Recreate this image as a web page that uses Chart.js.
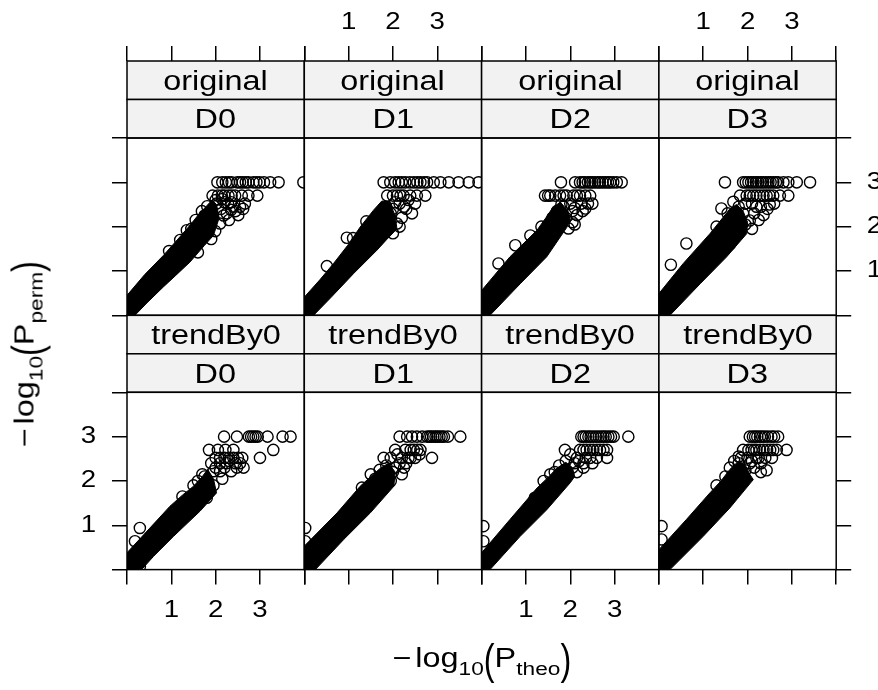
<!DOCTYPE html>
<html>
<head>
<meta charset="utf-8">
<title>-log10(P_perm) vs -log10(P_theo)</title>
<script src="https://cdn.jsdelivr.net/npm/chart.js@4/dist/chart.umd.min.js"></script>
<style>
  html, body { margin:0; padding:0; background:#fff; overflow:hidden; }
  #wrap { position:relative; width:878px; height:690px; }
  #c { position:absolute; left:0; top:0; }
  .lbl { position:absolute; font-family:"Liberation Sans", Arial, sans-serif; color:#000; white-space:nowrap; line-height:1; }
  .strip { display:flex; align-items:center; justify-content:center; font-size:27px; }
  .strip span { display:inline-block; transform:translateY(1.4px) scaleX(1.2); }
  .axt { font-size:27px; }
  .axt sub { font-size:70%; vertical-align:-0.45em; line-height:0; }
  .axt .mn { margin-right:3px; }
  .axt .par { display:inline-block; transform:translateY(3px) scaleY(1.55); }
</style>
</head>
<body>
<div id="wrap"><canvas id="c" width="878" height="690"></canvas></div>
<script>
// ---------------- data ----------------
const rowLabels = ['original', 'trendBy0'];
const colLabels = ['D0', 'D1', 'D2', 'D3'];
const tickValues = [0, 1, 2, 3, 4];
const tickLabels = [1, 2, 3];
const axisMin = 0, axisMax = 4;

// original / D0 : individual circles (x = -log10 P_theo, y = -log10 P_perm)
const o0_x = [2.04,2.15,2.23,2.30,2.36,2.49,2.55,2.61,2.68,2.74,2.85,2.92,2.99,3.09,3.23,3.42,3.98,
              1.93,2.05,2.14,2.20,2.29,2.36,2.44,2.59,2.74,2.94,
              1.69,1.81,2.02,2.12,2.25,2.40,2.51,2.66,2.10,1.99,2.30,1.55,1.35,2.20,2.35,
              2.00,2.15,2.28,2.45,2.55,2.18,1.88,1.75,2.35,2.62,1.45,1.20,0.95,1.90,1.60];
const o0_y = [3,3,3,3,3,3,3,3,3,3,3,3,3,3,3,3,3,
              2.7,2.7,2.7,2.7,2.7,2.7,2.7,2.7,2.7,2.7,
              2.35,2.46,2.52,2.40,2.30,2.45,2.26,2.52,2.07,1.90,2.15,2.15,1.92,2.55,2.55,
              2.60,2.62,2.52,2.35,2.45,2.25,2.30,2.25,2.38,2.40,1.95,1.70,1.45,1.72,1.42];
// original / D0 : outline of the solid black cloud of overlapping circles
const o0_bandX = [0,0,0.40,0.82,1.15,1.42,1.62,1.78,1.92,2.02,2.08,1.95,1.75,1.42,1.10,0.82,0.45,0.18];
const o0_bandY = [0,0.45,0.92,1.35,1.72,2.03,2.28,2.45,2.60,2.50,2.20,1.80,1.58,1.20,0.90,0.64,0.28,0];

// original / D1
const o1_x = [1.79,1.94,2.05,2.13,2.20,2.28,2.38,2.47,2.55,2.62,2.70,2.77,2.92,3.07,3.26,3.48,3.71,3.93,
              1.87,2.00,2.09,2.17,2.24,2.39,2.54,2.73,
              2.43,2.09,2.25,2.00,2.15,1.70,1.50,0.96,0.51,
              1.85,1.95,2.05,2.30,2.35,2.20,1.80,2.50,1.40,1.10,2.00,2.15];
const o1_y = [3,3,3,3,3,3,3,3,3,3,3,3,3,3,3,3,3,3,
              2.7,2.7,2.7,2.7,2.7,2.7,2.7,2.7,
              2.30,2.07,2.45,2.40,2.52,2.25,2.00,1.75,1.11,
              2.45,2.30,2.55,2.40,2.60,2.20,2.15,2.52,2.12,1.74,1.85,2.00];
const o1_bandX = [0,0,0.35,0.66,0.98,1.26,1.56,1.75,1.92,2.05,2.09,1.85,1.64,1.11,0.60,0.21];
const o1_bandY = [0,0.41,0.80,1.17,1.58,1.99,2.37,2.58,2.55,2.25,1.95,1.70,1.47,0.94,0.40,0];

// original / D2
const o2_x = [1.79,2.11,2.22,2.28,2.33,2.40,2.45,2.50,2.56,2.62,2.67,2.73,2.79,2.85,2.90,2.97,3.05,3.16,
              1.43,1.50,1.55,1.66,1.77,1.85,1.92,2.07,2.15,2.22,2.34,2.45,
              2.34,2.15,1.96,2.05,1.85,2.25,1.60,0.38,0.76,
              1.70,1.80,2.00,2.10,2.28,2.40,2.50,1.90,2.05,1.35,1.10,2.10];
const o2_y = [3,3,3,3,3,3,3,3,3,3,3,3,3,3,3,3,3,3,
              2.7,2.7,2.7,2.7,2.7,2.7,2.7,2.7,2.7,2.7,2.7,2.7,
              2.41,2.26,1.96,2.35,2.45,2.52,2.20,1.17,1.58,
              2.35,2.50,2.52,2.42,2.35,2.52,2.52,2.20,2.10,2.00,1.80,2.05];
const o2_bandX = [0,0,0.64,1.25,1.45,1.62,1.78,1.95,2.00,1.92,1.47,0.87,0.19];
const o2_bandY = [0,0.56,1.32,1.92,2.20,2.45,2.55,2.35,2.15,1.98,1.32,0.71,0];

// original / D3
const o3_x = [1.49,1.90,1.96,2.02,2.08,2.13,2.19,2.24,2.30,2.35,2.41,2.47,2.52,2.58,2.64,2.69,2.81,2.92,3.11,3.41,
              1.83,1.98,2.05,2.13,2.20,2.28,2.36,2.43,2.50,2.58,2.73,2.92,
              1.41,1.68,2.36,2.05,2.20,1.90,2.50,1.75,1.60,0.27,0.62,
              1.55,1.80,1.95,2.10,2.30,2.45,2.60,2.15,1.95,1.30,2.25,2.10];
const o3_y = [3,3,3,3,3,3,3,3,3,3,3,3,3,3,3,3,3,3,3,3,
              2.7,2.7,2.7,2.7,2.7,2.7,2.7,2.7,2.7,2.7,2.7,2.7,
              2.41,2.56,2.26,2.14,2.45,2.30,2.50,2.20,1.60,1.14,1.62,
              2.30,2.45,2.52,2.52,2.45,2.40,2.52,2.30,2.05,2.00,2.15,1.95];
const o3_bandX = [0,0,0.55,1.15,1.40,1.60,1.75,1.90,2.00,1.98,1.53,0.93,0.25];
const o3_bandY = [0,0.49,1.17,1.84,2.15,2.40,2.50,2.35,2.10,1.84,1.32,0.71,0];

// trendBy0 / D0
const t0_x = [2.19,2.48,2.75,2.80,2.85,2.90,2.95,3.17,3.51,3.69,
              1.85,2.05,2.22,2.40,3.30,
              2.00,2.10,2.20,2.30,2.40,2.50,2.60,3.00,
              2.10,2.25,2.45,
              2.20,2.48,2.63,
              1.95,2.10,
              0.29,0.18,0.29,1.80,1.60,1.75,
              1.70,1.90,2.00,2.30,2.55,2.35,1.50,1.25,1.95,2.15];
const t0_y = [3,3,3,3,3,3,3,3,3,3,
              2.7,2.7,2.7,2.7,2.7,
              2.52,2.52,2.52,2.52,2.52,2.52,2.52,2.52,
              2.4,2.4,2.4,
              2.3,2.3,2.3,
              2.22,2.22,
              0.94,0.64,0.07,1.62,2.00,2.10,
              2.15,2.40,2.30,2.45,2.40,2.22,1.90,1.65,1.90,2.05];
const t0_bandX = [0,0,0.50,0.97,1.25,1.50,1.70,1.82,1.95,2.02,1.65,1.05,0.60,0.33];
const t0_bandY = [0,0.38,0.92,1.43,1.68,1.88,2.10,2.26,2.05,1.73,1.32,0.75,0.30,0];

// trendBy0 / D1
const t1_x = [2.15,2.32,2.43,2.54,2.66,2.77,2.82,2.86,2.91,2.96,3.00,3.05,3.10,3.15,3.24,3.52,
              2.05,2.28,2.40,2.47,2.55,2.62,
              1.79,2.20,2.35,2.50,2.88,
              2.15,2.30,2.05,2.25,
              0.02,0.02,1.50,1.95,
              1.70,1.85,1.95,2.10,2.40,2.60,2.00,1.60,1.30,2.20];
const t1_y = [3,3,3,3,3,3,3,3,3,3,3,3,3,3,3,3,
              2.7,2.7,2.7,2.7,2.7,2.7,
              2.52,2.52,2.52,2.52,2.52,
              2.4,2.4,2.3,2.3,
              0.94,0.64,2.15,2.00,
              2.25,2.35,2.52,2.60,2.52,2.60,2.20,2.05,1.85,2.15];
const t1_bandX = [0,0,0.74,1.26,1.50,1.72,1.90,2.05,2.02,1.49,0.89,0.25];
const t1_bandY = [0,0.53,1.28,1.88,2.10,2.29,2.40,2.20,1.88,1.28,0.68,0];

// trendBy0 / D2
const t2_x = [2.25,2.30,2.35,2.41,2.46,2.52,2.58,2.64,2.70,2.75,2.80,2.86,2.92,2.98,3.31,
              1.88,2.22,2.30,2.37,2.45,2.52,2.60,2.67,2.75,2.83,
              2.15,2.45,2.60,2.83,
              2.10,2.30,2.05,
              0.04,0.04,1.20,1.55,
              1.75,1.90,2.00,2.20,2.35,2.50,1.65,1.40,2.15,2.30];
const t2_y = [3,3,3,3,3,3,3,3,3,3,3,3,3,3,3,
              2.7,2.7,2.7,2.7,2.7,2.7,2.7,2.7,2.7,2.7,
              2.52,2.52,2.52,2.52,
              2.4,2.4,2.3,
              0.98,0.64,1.62,2.15,
              2.35,2.45,2.60,2.45,2.52,2.40,2.20,2.00,2.20,2.30];
const t2_bandX = [0,0,0.64,1.25,1.50,1.70,1.90,2.05,2.10,2.00,1.47,0.87,0.19];
const t2_bandY = [0,0.38,1.13,1.84,2.08,2.29,2.42,2.30,2.10,1.96,1.35,0.75,0];

// trendBy0 / D3
const t3_x = [2.05,2.12,2.17,2.22,2.28,2.33,2.39,2.46,2.54,2.60,2.69,
              1.90,2.02,2.09,2.15,2.20,2.28,2.36,2.44,2.51,2.58,2.66,2.88,
              1.85,2.00,2.20,2.40,
              1.80,2.05,2.30,
              1.95,2.43,
              0.06,0.06,
              1.60,1.70,1.80,2.10,2.25,2.55,2.15,1.50,1.30,2.30];
const t3_y = [3,3,3,3,3,3,3,3,3,3,3,
              2.7,2.7,2.7,2.7,2.7,2.7,2.7,2.7,2.7,2.7,2.7,2.7,
              2.52,2.52,2.52,2.52,
              2.4,2.4,2.4,
              2.24,2.24,
              0.98,0.68,
              2.30,2.45,2.55,2.45,2.52,2.52,2.30,2.10,1.90,2.20];
const t3_bandX = [0,0,0.62,1.15,1.40,1.60,1.80,1.95,2.05,2.13,1.60,1.00,0.25];
const t3_bandY = [0,0.45,1.13,1.73,2.00,2.26,2.45,2.35,2.15,2.03,1.39,0.75,0];

// ---------------- layout / style ----------------
const X0 = 127, PW = 177.3, PH = 177.3, SH = 38.5;
const PT = [138, 392.3];             // panel tops for the two rows
const LW = 1.5;
const STRIP_BG = '#f2f2f2';
const FONT = "'Liberation Sans', Arial, sans-serif";
const STRETCH = 1.2;                  // glyph width factor of the reference text

const panels = [
  {row:0, col:0, x:o0_x, y:o0_y, bx:o0_bandX, by:o0_bandY},
  {row:0, col:1, x:o1_x, y:o1_y, bx:o1_bandX, by:o1_bandY},
  {row:0, col:2, x:o2_x, y:o2_y, bx:o2_bandX, by:o2_bandY},
  {row:0, col:3, x:o3_x, y:o3_y, bx:o3_bandX, by:o3_bandY},
  {row:1, col:0, x:t0_x, y:t0_y, bx:t0_bandX, by:t0_bandY},
  {row:1, col:1, x:t1_x, y:t1_y, bx:t1_bandX, by:t1_bandY},
  {row:1, col:2, x:t2_x, y:t2_y, bx:t2_bandX, by:t2_bandY},
  {row:1, col:3, x:t3_x, y:t3_y, bx:t3_bandX, by:t3_bandY}
];

const datasets = [];
panels.forEach(p => {
  const xa = 'xb' + p.col, ya = 'yl' + p.row;
  datasets.push({
    type: 'scatter',
    label: rowLabels[p.row] + ' ' + colLabels[p.col],
    data: p.x.map((v, i) => ({x: v, y: p.y[i]})),
    xAxisID: xa, yAxisID: ya,
    pointStyle: 'circle', pointRadius: 5.6,
    borderWidth: 1.4, pointBorderWidth: 1.4,
    borderColor: '#000', pointBorderColor: '#000',
    backgroundColor: 'rgba(0,0,0,0)', pointBackgroundColor: 'rgba(0,0,0,0)',
    clip: 0, order: 0
  });
  datasets.push({
    type: 'line',
    label: rowLabels[p.row] + ' ' + colLabels[p.col] + ' (dense)',
    data: p.bx.map((v, i) => ({x: v, y: p.by[i]})),
    xAxisID: xa, yAxisID: ya,
    fill: 'shape', backgroundColor: '#000', borderColor: '#000', borderWidth: 1,
    pointRadius: 0, tension: 0, clip: 0, order: 1
  });
});

function axisDef(pos, showLabels, pad) {
  return {
    type: 'linear', position: pos, axis: (pos === 'left' || pos === 'right') ? 'y' : 'x',
    min: axisMin, max: axisMax,
    afterBuildTicks: s => { s.ticks = tickValues.map(v => ({value: v})); },
    grid: {display: true, drawOnChartArea: false, drawTicks: true, tickLength: 15,
           tickWidth: LW, tickColor: '#000', lineWidth: LW, color: '#000'},
    border: {display: false},
    ticks: {display: showLabels, autoSkip: false, maxRotation: 0, minRotation: 0, padding: pad,
            color: '#000', font: {family: FONT, size: 23},
            callback: v => tickLabels.includes(v) ? String(v) : ''}
  };
}
const scales = {
  x: {display: false, min: axisMin, max: axisMax},
  y: {display: false, min: axisMin, max: axisMax}
};
for (let c = 0; c < 4; c++) {
  scales['xb' + c] = axisDef('bottom', c % 2 === 0, 12.6);
  scales['xt' + c] = axisDef('top', c % 2 === 1, 9.4);
}
for (let r = 0; r < 2; r++) {
  scales['yl' + r] = axisDef('left', r === 1, 16);
  scales['yr' + r] = axisDef('right', r === 0, 15.5);
}

function stretchLabels(scale) {
  if (scale._stretchWrapped) return;
  scale._stretchWrapped = true;
  const orig = scale.drawLabels;
  scale.drawLabels = function(area) {
    const ctx = this.ctx;
    const native = CanvasRenderingContext2D.prototype.fillText;
    ctx.fillText = function(t, x, y) {
      this.save(); this.translate(x, y); this.scale(STRETCH, 1);
      native.call(this, t, 0, 0); this.restore();
    };
    try { orig.call(this, area); } finally { delete ctx.fillText; }
  };
}

const latticePlugin = {
  id: 'lattice',
  afterLayout(chart) {
    const setBox = (s, l, t, r, b) => {
      if (!s) return;
      s.left = l; s.top = t; s.right = r; s.bottom = b;
      s.width = r - l; s.height = b - t;
      s.configure();
      s._gridLineItems = null; s._labelItems = null;
      stretchLabels(s);
    };
    const right = X0 + 4 * PW;
    for (let c = 0; c < 4; c++) {
      const l = X0 + c * PW, r = l + PW;
      setBox(chart.scales['xb' + c], l, PT[1] + PH, r, chart.height);
      setBox(chart.scales['xt' + c], l, 0, r, PT[0] - 2 * SH);
    }
    for (let r = 0; r < 2; r++) {
      setBox(chart.scales['yl' + r], 0, PT[r], X0, PT[r] + PH);
      setBox(chart.scales['yr' + r], right, PT[r], chart.width, PT[r] + PH);
    }
    chart.chartArea = {left: X0, top: PT[0], right: right, bottom: PT[1] + PH,
                       width: 4 * PW, height: PT[1] + PH - PT[0]};
  },
  beforeDatasetsDraw(chart) {
    const ctx = chart.ctx;
    ctx.save();
    ctx.lineWidth = LW; ctx.strokeStyle = '#000'; ctx.fillStyle = STRIP_BG;
    for (let r = 0; r < 2; r++) for (let c = 0; c < 4; c++) for (let k = 0; k < 2; k++) {
      const x = X0 + c * PW, y = PT[r] - 2 * SH + k * SH;
      ctx.fillRect(x, y, PW, SH);
      ctx.strokeRect(x, y, PW, SH);
    }
    ctx.restore();
  },
  afterDatasetsDraw(chart) {
    const ctx = chart.ctx;
    ctx.save();
    ctx.lineWidth = LW; ctx.strokeStyle = '#000';
    for (let r = 0; r < 2; r++) for (let c = 0; c < 4; c++) {
      ctx.strokeRect(X0 + c * PW, PT[r], PW, PH);
    }
    ctx.restore();
  }
};

new Chart(document.getElementById('c'), {
  type: 'scatter',
  data: {datasets},
  options: {
    responsive: false, animation: false, devicePixelRatio: 1, events: [],
    layout: {padding: 0},
    plugins: {legend: {display: false}, tooltip: {enabled: false}, title: {display: false}},
    scales
  },
  plugins: [latticePlugin]
});

// ---------------- strips and axis titles (HTML text) ----------------
const wrap = document.getElementById('wrap');
for (let r = 0; r < 2; r++) for (let c = 0; c < 4; c++) {
  [rowLabels[r], colLabels[c]].forEach((txt, k) => {
    const d = document.createElement('div');
    d.className = 'lbl strip';
    d.style.left = (X0 + c * PW) + 'px';
    d.style.top = (PT[r] - 2 * SH + k * SH) + 'px';
    d.style.width = PW + 'px';
    d.style.height = SH + 'px';
    const s = document.createElement('span');
    s.textContent = txt;
    d.appendChild(s);
    wrap.appendChild(d);
  });
}
const xt = document.createElement('div');
xt.className = 'lbl axt';
xt.innerHTML = '<span class="mn">\u2212</span>log<sub>10</sub><span class="par">(</span>P<sub>theo</sub><span class="par">)</span>';
xt.style.left = (X0 + 2 * PW) + 'px';
xt.style.top = '657.5px';
xt.style.transform = 'translate(-50%,-50%) scaleX(' + STRETCH + ')';
wrap.appendChild(xt);

const yt = document.createElement('div');
yt.className = 'lbl axt';
yt.innerHTML = '<span class="mn">\u2212</span>log<sub>10</sub><span class="par">(</span>P<sub>perm</sub><span class="par">)</span>';
yt.style.left = '24.6px';
yt.style.top = ((PT[0] + PT[1] + PH) / 2) + 'px';
yt.style.transform = 'translate(-50%,-50%) rotate(-90deg) scaleX(' + STRETCH + ')';
wrap.appendChild(yt);
</script>
</body>
</html>
